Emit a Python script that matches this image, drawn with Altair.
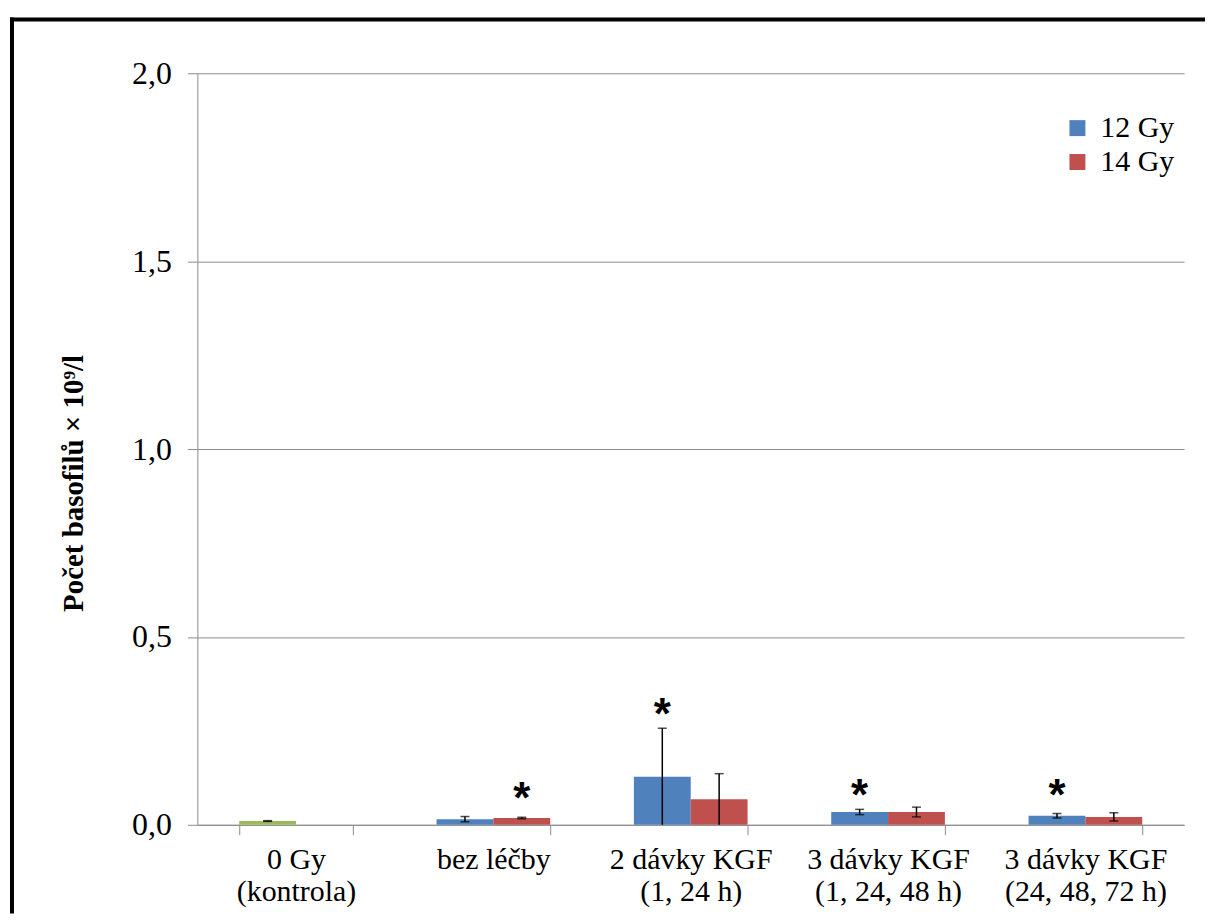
import altair as alt
import pandas as pd

# ---- data ----
categories = ["0 Gy|(kontrola)", "bez léčby", "2 dávky KGF|(1, 24 h)",
              "3 dávky KGF|(1, 24, 48 h)", "3 dávky KGF|(24, 48, 72 h)"]
slots = ["12 Gy", "14 Gy"]

bar_category = [categories[0], categories[1], categories[1], categories[2], categories[2],
                categories[3], categories[3], categories[4], categories[4]]
bar_slot = ["12 Gy", "12 Gy", "14 Gy", "12 Gy", "14 Gy", "12 Gy", "14 Gy", "12 Gy", "14 Gy"]
bar_series = ["kontrola", "12 Gy", "14 Gy", "12 Gy", "14 Gy", "12 Gy", "14 Gy", "12 Gy", "14 Gy"]
bar_value = [0.010, 0.015, 0.018, 0.128, 0.068, 0.034, 0.034, 0.024, 0.021]
bar_error = [0.001, 0.007, 0.002, 0.129, 0.068, 0.007, 0.013, 0.006, 0.011]

star_category = [categories[1], categories[2], categories[3], categories[4]]
star_slot = ["14 Gy", "12 Gy", "12 Gy", "12 Gy"]
star_value = [0.093, 0.316, 0.101, 0.101]

series_domain = ["12 Gy", "14 Gy", "kontrola"]
series_colors = ["#4F81BD", "#C0504D", "#9BBB59"]

FONT = "Times"

bars = pd.DataFrame({"category": bar_category, "slot": bar_slot, "series": bar_series,
                     "value": bar_value, "err": bar_error})
bars["lo"] = (bars["value"] - bars["err"]).clip(lower=0)
bars["hi"] = bars["value"] + bars["err"]

stars = pd.DataFrame({"category": star_category, "slot": star_slot, "value": star_value,
                      "label": ["*"] * len(star_value)})

x_enc = alt.X("category:N", sort=categories,
              scale=alt.Scale(domain=categories, paddingInner=0.424, paddingOuter=0.212),
              axis=alt.Axis(title=None, labelAngle=0, tickBand="extent",
                            labelExpr="split(datum.label, '|')",
                            labelFont=FONT, labelFontSize=30, labelLimit=400,
                            labelLineHeight=32,
                            labelColor="black", labelPadding=10,
                            domainColor="#8c8c8c", tickColor="#8c8c8c", tickSize=10,
                            grid=False))
xo_enc = alt.XOffset("slot:N", scale=alt.Scale(domain=slots, paddingInner=0, paddingOuter=0))
y_scale = alt.Scale(domain=[0, 2], nice=False, zero=True)

bar_layer = alt.Chart(bars).mark_bar().encode(
    x=x_enc, xOffset=xo_enc,
    y=alt.Y("value:Q", scale=y_scale,
            axis=alt.Axis(values=[0, 0.5, 1, 1.5, 2],
                          labelExpr="replace(format(datum.value, '.1f'), '.', ',')",
                          labelFont=FONT, labelFontSize=32, labelColor="black",
                          labelPadding=16, tickSize=10, tickColor="#8c8c8c",
                          domainColor="#8c8c8c", grid=True, gridColor="#8c8c8c",
                          title="Počet basofilů × 10⁹/l", titleFont=FONT,
                          titleFontSize=29, titleFontWeight="bold", titleColor="black",
                          titleAngle=270, titleBaseline="alphabetic",
                          titleX=-115, titleY=411, titleAlign="center")),
    color=alt.Color("series:N",
                    scale=alt.Scale(domain=series_domain, range=series_colors),
                    legend=alt.Legend(values=["12 Gy", "14 Gy"], title=None,
                                      orient="none", legendX=868, legendY=40,
                                      symbolType="square", symbolSize=256,
                                      symbolStrokeWidth=0, symbolOpacity=1,
                                      labelFont=FONT, labelFontSize=30,
                                      labelColor="black", labelOffset=8,
                                      rowPadding=4, padding=0)),
)

err_rule = alt.Chart(bars).mark_rule(color="black", strokeWidth=1.5).encode(
    x=x_enc, xOffset=xo_enc, y=alt.Y("lo:Q", scale=y_scale), y2="hi:Q")

cap_hi = alt.Chart(bars).mark_tick(color="black", thickness=1.5, size=9).encode(
    x=x_enc, xOffset=xo_enc, y=alt.Y("hi:Q", scale=y_scale))

cap_lo = alt.Chart(bars).transform_filter("datum.lo > 0").mark_tick(
    color="black", thickness=1.5, size=9).encode(
    x=x_enc, xOffset=xo_enc, y=alt.Y("lo:Q", scale=y_scale))

star_layer = alt.Chart(stars).mark_text(
    font="Liberation Sans", fontWeight="bold", fontSize=44, color="black",
    baseline="alphabetic", dy=23).encode(
    x=x_enc, xOffset=xo_enc, y=alt.Y("value:Q", scale=y_scale), text="label:N")

one = pd.DataFrame({"k": [0]})
frame_top = alt.Chart(one).mark_rule(color="black", strokeWidth=4, strokeCap="square").encode(
    x=alt.value(-186), x2=alt.value(1009), y=alt.value(-54))
frame_left = alt.Chart(one).mark_rule(color="black", strokeWidth=4, strokeCap="square").encode(
    x=alt.value(-186), y=alt.value(-54), y2=alt.value(841))

chart = alt.layer(bar_layer, err_rule, cap_hi, cap_lo, star_layer, frame_top, frame_left).properties(
    width=990, height=754,
    padding={"left": 1, "top": 7, "right": 0, "bottom": 0},
    background="white",
).configure_view(stroke=None)

chart.save("out.html", embed_options={"renderer": "svg", "actions": False})
